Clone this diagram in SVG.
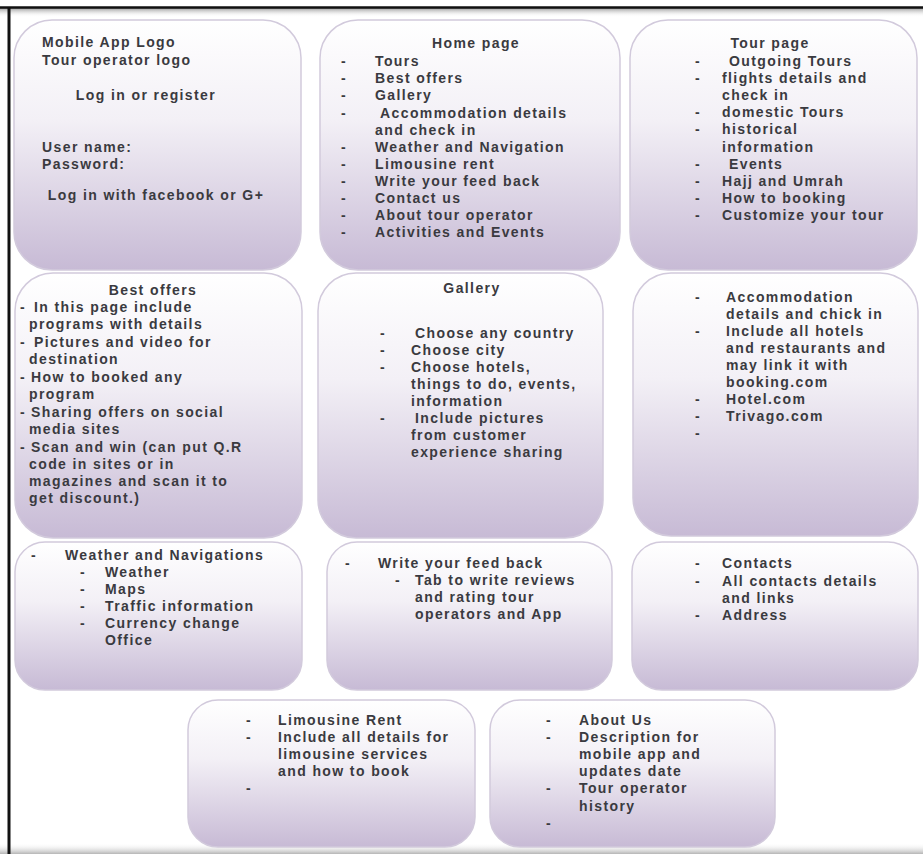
<svg xmlns="http://www.w3.org/2000/svg" width="923" height="854" viewBox="0 0 923 854">
<defs>
<linearGradient id="boxFill" x1="0" y1="0" x2="0" y2="1">
<stop offset="0" stop-color="#ffffff"/>
<stop offset="0.4" stop-color="#f3f0f6"/>
<stop offset="1" stop-color="#c7bad5"/>
</linearGradient>
<linearGradient id="topShadow" x1="0" y1="0" x2="0" y2="1">
<stop offset="0" stop-color="#9a9a9a"/>
<stop offset="1" stop-color="#ffffff" stop-opacity="0"/>
</linearGradient>
<linearGradient id="botShadow" x1="0" y1="0" x2="0" y2="1">
<stop offset="0" stop-color="#ffffff" stop-opacity="0"/>
<stop offset="1" stop-color="#b5b5b5"/>
</linearGradient>
</defs>
<style>
.box{fill:url(#boxFill);stroke:#d2cadc;stroke-width:1.5}
text{font-family:"Liberation Sans",Arial,sans-serif;font-size:14px;font-weight:bold;letter-spacing:1.4px;fill:#3a3a40}
.c{text-anchor:middle}
</style>
<rect x="0" y="0" width="923" height="854" fill="#ffffff"/>
<rect x="0" y="8" width="923" height="9" fill="url(#topShadow)"/>
<rect x="0" y="843" width="923" height="11" fill="url(#botShadow)"/>
<rect x="0" y="0" width="923" height="7" fill="#ffffff"/>
<line x1="0" y1="7.5" x2="923" y2="7.5" stroke="#111" stroke-width="2.5"/>
<line x1="9" y1="7" x2="9" y2="854" stroke="#111" stroke-width="3"/>

<g id="connectors"/>

<g id="login">
<rect class="box" x="14" y="20" width="287" height="250" rx="38"/>
<text x="42" y="47">Mobile App Logo</text>
<text x="42" y="65">Tour operator logo</text>
<text class="c" x="146" y="100">Log in or register</text>
<text x="42" y="152">User name:</text>
<text x="42" y="169">Password:</text>
<text class="c" x="156" y="200">Log in with facebook or G+</text>
</g>

<g id="home-page">
<rect class="box" x="320" y="20" width="300" height="250" rx="38"/>
<text class="c" x="476" y="48">Home page</text>
<text x="341" y="66">-</text><text x="375" y="66">Tours</text>
<text x="341" y="83">-</text><text x="375" y="83">Best offers</text>
<text x="341" y="100">-</text><text x="375" y="100">Gallery</text>
<text x="341" y="118">-</text><text x="380" y="118">Accommodation details</text>
<text x="375" y="135">and check in</text>
<text x="341" y="152">-</text><text x="375" y="152">Weather and Navigation</text>
<text x="341" y="169">-</text><text x="375" y="169">Limousine rent</text>
<text x="341" y="186">-</text><text x="375" y="186">Write your feed back</text>
<text x="341" y="203">-</text><text x="375" y="203">Contact us</text>
<text x="341" y="220">-</text><text x="375" y="220">About tour operator</text>
<text x="341" y="237">-</text><text x="375" y="237">Activities and Events</text>
</g>

<g id="tour-page">
<rect class="box" x="630" y="20" width="287" height="250" rx="38"/>
<text class="c" x="770" y="48">Tour page</text>
<text x="695" y="66">-</text><text x="729" y="66">Outgoing Tours</text>
<text x="695" y="83">-</text><text x="722" y="83">flights details and</text>
<text x="722" y="100">check in</text>
<text x="695" y="117">-</text><text x="722" y="117">domestic Tours</text>
<text x="695" y="134">-</text><text x="722" y="134">historical</text>
<text x="722" y="152">information</text>
<text x="695" y="169">-</text><text x="729" y="169">Events</text>
<text x="695" y="186">-</text><text x="722" y="186">Hajj and Umrah</text>
<text x="695" y="203">-</text><text x="722" y="203">How to booking</text>
<text x="695" y="220">-</text><text x="722" y="220">Customize your tour</text>
</g>

<g id="best-offers">
<rect class="box" x="15" y="273" width="287" height="265" rx="38"/>
<text class="c" x="153" y="295">Best offers</text>
<text x="20" y="312">-</text><text x="34" y="312">In this page include</text>
<text x="29" y="329">programs with details</text>
<text x="20" y="347">-</text><text x="34" y="347">Pictures and video for</text>
<text x="29" y="364">destination</text>
<text x="20" y="382">-</text><text x="31" y="382">How to booked any</text>
<text x="29" y="399">program</text>
<text x="20" y="417">-</text><text x="31" y="417">Sharing offers on social</text>
<text x="29" y="434">media sites</text>
<text x="20" y="452">-</text><text x="31" y="452">Scan and win (can put Q.R</text>
<text x="29" y="469">code in sites or in</text>
<text x="29" y="486">magazines and scan it to</text>
<text x="29" y="503">get discount.)</text>
</g>

<g id="gallery">
<rect class="box" x="318" y="273" width="285" height="265" rx="38"/>
<text class="c" x="472" y="293">Gallery</text>
<text x="380" y="338">-</text><text x="415" y="338">Choose any country</text>
<text x="380" y="355">-</text><text x="411" y="355">Choose city</text>
<text x="380" y="372">-</text><text x="411" y="372">Choose hotels,</text>
<text x="411" y="389">things to do, events,</text>
<text x="411" y="406">information</text>
<text x="380" y="423">-</text><text x="415" y="423">Include pictures</text>
<text x="411" y="440">from customer</text>
<text x="411" y="457">experience sharing</text>
</g>

<g id="accommodation">
<rect class="box" x="633" y="273" width="285" height="263" rx="38"/>
<text x="695" y="302">-</text><text x="726" y="302">Accommodation</text>
<text x="726" y="319">details and chick in</text>
<text x="695" y="336">-</text><text x="726" y="336">Include all hotels</text>
<text x="726" y="353">and restaurants and</text>
<text x="726" y="370">may link it with</text>
<text x="726" y="387">booking.com</text>
<text x="695" y="404">-</text><text x="726" y="404">Hotel.com</text>
<text x="695" y="421">-</text><text x="726" y="421">Trivago.com</text>
<text x="695" y="438">-</text>
</g>

<g id="weather-navigation">
<rect class="box" x="15" y="542" width="287" height="148" rx="30"/>
<text x="31" y="560">-</text><text x="65" y="560">Weather and Navigations</text>
<text x="80" y="577">-</text><text x="105" y="577">Weather</text>
<text x="80" y="594">-</text><text x="105" y="594">Maps</text>
<text x="80" y="611">-</text><text x="105" y="611">Traffic information</text>
<text x="80" y="628">-</text><text x="105" y="628">Currency change</text>
<text x="105" y="645">Office</text>
</g>

<g id="feedback">
<rect class="box" x="327" y="542" width="285" height="148" rx="30"/>
<text x="345" y="568">-</text><text x="378" y="568">Write your feed back</text>
<text x="395" y="585">-</text><text x="415" y="585">Tab to write reviews</text>
<text x="415" y="602">and rating tour</text>
<text x="415" y="619">operators and App</text>
</g>

<g id="contacts">
<rect class="box" x="632" y="542" width="286" height="148" rx="30"/>
<text x="695" y="568">-</text><text x="722" y="568">Contacts</text>
<text x="695" y="586">-</text><text x="722" y="586">All contacts details</text>
<text x="722" y="603">and links</text>
<text x="695" y="620">-</text><text x="722" y="620">Address</text>
</g>

<g id="limousine">
<rect class="box" x="188" y="700" width="287" height="147" rx="30"/>
<text x="246" y="725">-</text><text x="278" y="725">Limousine Rent</text>
<text x="246" y="742">-</text><text x="278" y="742">Include all details for</text>
<text x="278" y="759">limousine services</text>
<text x="278" y="776">and how to book</text>
<text x="246" y="793">-</text>
</g>

<g id="about-us">
<rect class="box" x="490" y="700" width="285" height="147" rx="30"/>
<text x="546" y="725">-</text><text x="579" y="725">About Us</text>
<text x="546" y="742">-</text><text x="579" y="742">Description for</text>
<text x="579" y="759">mobile app and</text>
<text x="579" y="776">updates date</text>
<text x="546" y="793">-</text><text x="579" y="793">Tour operator</text>
<text x="579" y="811">history</text>
<text x="546" y="828">-</text>
</g>
</svg>
